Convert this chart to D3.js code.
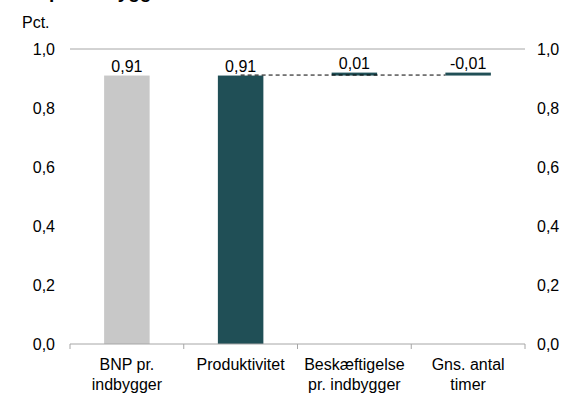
<!DOCTYPE html>
<html>
<head>
<meta charset="utf-8">
<script src="https://cdn.jsdelivr.net/npm/d3@7"></script>
<style>
  html, body { margin: 0; padding: 0; background: #fff; }
  svg { display: block; font-family: "Liberation Sans", Arial, sans-serif; }
</style>
</head>
<body>
<svg id="chart" width="576" height="393"></svg>
<script>
// Categories (label lines) and values
const categoryLines = [
  ["BNP pr.", "indbygger"],
  ["Produktivitet"],
  ["Beskæftigelse", "pr. indbygger"],
  ["Gns. antal", "timer"]
];
const values = [0.91, 0.91, 0.01, -0.01];
const valueLabels = ["0,91", "0,91", "0,01", "-0,01"];
const yTicks = [0, 0.2, 0.4, 0.6, 0.8, 1.0];
const colors = ["#c8c8c8", "#204f56", "#204f56", "#204f56"];

const svg = d3.select("#chart");
const plotLeft = 70, plotRight = 525, plotTop = 49, plotBottom = 344;

const x = d3.scaleBand()
  .domain(d3.range(categoryLines.length))
  .range([plotLeft, plotRight])
  .paddingInner(0.6)
  .paddingOuter(0.3);

const y = d3.scaleLinear().domain([0, 1]).range([plotBottom, plotTop]);

// Waterfall: first bar is the total, the rest are stacked components
let run = 0;
const bars = values.map((v, i) => {
  if (i === 0) return { i, start: 0, end: v };
  const b = { i, start: run, end: run + v };
  run += v;
  return b;
});

// Title (clipped at the top edge)
svg.append("text")
  .attr("x", 4).attr("y", -2)
  .attr("font-size", 19).attr("font-weight", "bold")
  .attr("fill", "#000")
  .text("BNP pr. indbygger");

svg.append("text")
  .attr("x", 22).attr("y", 28)
  .attr("font-size", 16).attr("fill", "#000")
  .text("Pct.");

// Top frame line at 1,0
svg.append("line")
  .attr("x1", plotLeft).attr("x2", plotRight)
  .attr("y1", y(1)).attr("y2", y(1))
  .attr("stroke", "#a6a6a6").attr("stroke-width", 1);

// Left and right value axes (labels only)
const fmt = d => d3.format(".1f")(d).replace(".", ",");
const yLeft = d3.axisLeft(y).tickValues(yTicks).tickFormat(fmt).tickSize(0).tickPadding(15);
const yRight = d3.axisRight(y).tickValues(yTicks).tickFormat(fmt).tickSize(0).tickPadding(12);
[svg.append("g").attr("transform", `translate(${plotLeft},0)`).call(yLeft),
 svg.append("g").attr("transform", `translate(${plotRight},0)`).call(yRight)]
  .forEach(g => {
    g.select(".domain").remove();
    g.selectAll("text").attr("font-size", 16).attr("fill", "#000")
      .attr("font-family", "Liberation Sans, Arial, sans-serif");
  });

// Bars
svg.append("g").selectAll("rect")
  .data(bars)
  .join("rect")
  .attr("x", d => x(d.i))
  .attr("width", x.bandwidth())
  .attr("y", d => y(Math.max(d.start, d.end)))
  .attr("height", d => Math.max(1, Math.abs(y(d.start) - y(d.end))))
  .attr("fill", (d, i) => colors[i]);

// Connector line from the productivity bar across the components
svg.append("line")
  .attr("x1", x(1) + x.bandwidth() / 2)
  .attr("x2", x(3))
  .attr("y1", y(values[1]) - 0.5).attr("y2", y(values[1]) - 0.5)
  .attr("stroke", "#000").attr("stroke-width", 1)
  .attr("stroke-dasharray", "4,3");

// Value labels
svg.append("g").selectAll("text")
  .data(bars)
  .join("text")
  .attr("x", d => x(d.i) + x.bandwidth() / 2)
  .attr("y", d => y(Math.max(d.start, d.end)) - 4)
  .attr("text-anchor", "middle")
  .attr("font-size", 16).attr("fill", "#000")
  .text((d, i) => valueLabels[i]);

// Category axis
const xAxis = svg.append("g").attr("transform", `translate(0,${plotBottom})`);
xAxis.append("line")
  .attr("x1", plotLeft).attr("x2", plotRight)
  .attr("stroke", "#a6a6a6");
const step = x.step();
xAxis.selectAll("line.tick")
  .data(d3.range(categoryLines.length + 1))
  .join("line")
  .attr("class", "tick")
  .attr("x1", i => plotLeft + i * step).attr("x2", i => plotLeft + i * step)
  .attr("y1", 0).attr("y2", 5)
  .attr("stroke", "#a6a6a6");

const catText = xAxis.selectAll("text.cat")
  .data(categoryLines)
  .join("text")
  .attr("class", "cat")
  .attr("text-anchor", "middle")
  .attr("font-size", 16).attr("fill", "#000");
catText.each(function(lines, i) {
  d3.select(this).selectAll("tspan")
    .data(lines)
    .join("tspan")
    .attr("x", x(i) + x.bandwidth() / 2)
    .attr("y", (l, j) => 26 + j * 20)
    .text(l => l);
});
</script>
</body>
</html>
